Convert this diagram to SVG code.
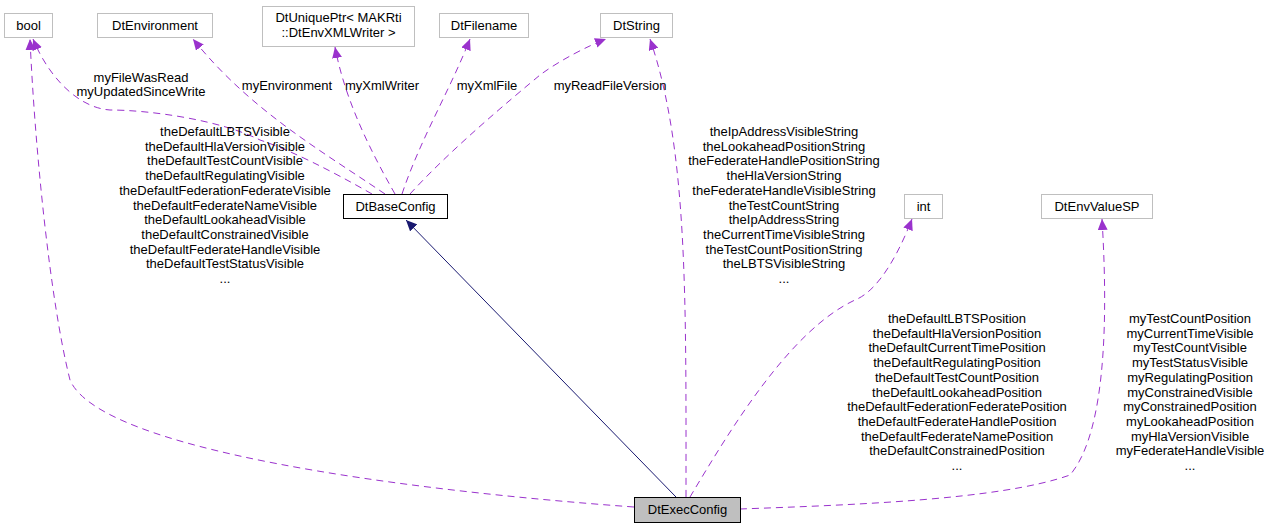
<svg xmlns="http://www.w3.org/2000/svg" width="1271" height="531" viewBox="0 0 1271 531">
<style>
text{font-family:"Liberation Sans",Arial,sans-serif;font-size:13px;fill:#000;text-anchor:middle}
.n{fill:#fff;stroke:#bfbfbf;stroke-width:1}
.d{fill:none;stroke:#9a32cd;stroke-width:1;stroke-dasharray:7,5}
</style>
<defs>
<marker id="p" markerWidth="12" markerHeight="10" refX="11" refY="5" orient="auto" markerUnits="userSpaceOnUse"><path d="M0,0L11,5L0,10z" fill="#9a32cd"/></marker>
<marker id="b" markerWidth="12" markerHeight="10" refX="11" refY="5" orient="auto" markerUnits="userSpaceOnUse"><path d="M0,0L11,5L0,10z" fill="#191970"/></marker>
</defs>
<rect width="1271" height="531" fill="#fff"/>
<g id="connectors">
<path class="d" marker-end="url(#p)" d="M372,194C330,170 290,150 260,140C220,120 150,110 110,110C80,108 50,80 33,39"/>
<path class="d" marker-end="url(#p)" d="M385,194C320,150 250,110 193,39"/>
<path class="d" marker-end="url(#p)" d="M395,194C370,150 345,100 335,47"/>
<path class="d" marker-end="url(#p)" d="M402,194C420,140 450,90 470,39"/>
<path class="d" marker-end="url(#p)" d="M410,194C450,150 510,100 540,75C560,60 590,45 606,39"/>
<path class="d" marker-end="url(#p)" d="M686,497C686,300 688,150 650,39"/>
<path class="d" marker-end="url(#p)" d="M634,507C400,490 100,450 70,380C50,300 35,150 30,39"/>
<path class="d" marker-end="url(#p)" d="M690,497C730,430 790,330 855,300C880,290 900,250 912,219"/>
<path class="d" marker-end="url(#p)" d="M740,509C850,505 1000,500 1070,475C1100,440 1110,350 1102,219"/>
<path fill="none" stroke="#191970" stroke-width="1" marker-end="url(#b)" d="M676,497L406,220"/>
</g>
<g id="bool"><rect class="n" x="4.5" y="13.5" width="48" height="24"/><text x="28.5" y="30">bool</text></g>
<g id="DtEnvironment"><rect class="n" x="97.5" y="13.5" width="115" height="24"/><text x="155" y="30">DtEnvironment</text></g>
<g id="DtUniquePtr"><rect class="n" x="262.5" y="6.5" width="152" height="40"/><text x="338.5" y="22">DtUniquePtr&lt; MAKRti</text><text x="338.5" y="37">::DtEnvXMLWriter &gt;</text></g>
<g id="DtFilename"><rect class="n" x="439.5" y="13.5" width="89" height="24"/><text x="484" y="30">DtFilename</text></g>
<g id="DtString"><rect class="n" x="600.5" y="13.5" width="72" height="24"/><text x="636.5" y="30">DtString</text></g>
<g id="DtBaseConfig"><rect x="343.5" y="194.5" width="104" height="24" fill="#fff" stroke="#000"/><text x="395.5" y="211">DtBaseConfig</text></g>
<g id="int"><rect class="n" x="904.5" y="194.5" width="38" height="24"/><text x="923.5" y="211">int</text></g>
<g id="DtEnvValueSP"><rect class="n" x="1041.5" y="194.5" width="111" height="24"/><text x="1097" y="211">DtEnvValueSP</text></g>
<g id="DtExecConfig"><rect x="634.5" y="497.5" width="106" height="25" fill="#bfbfbf" stroke="#000"/><text x="687.5" y="514">DtExecConfig</text></g>
<g id="labels">
<text x="141" y="82">myFileWasRead</text><text x="141" y="96">myUpdatedSinceWrite</text>
<text x="287" y="90">myEnvironment</text>
<text x="382" y="90">myXmlWriter</text>
<text x="487" y="90">myXmlFile</text>
<text x="610" y="90">myReadFileVersion</text>
<g transform="translate(225,136)">
<text y="0">theDefaultLBTSVisible</text><text y="14.7">theDefaultHlaVersionVisible</text><text y="29.4">theDefaultTestCountVisible</text><text y="44.1">theDefaultRegulatingVisible</text><text y="58.8">theDefaultFederationFederateVisible</text><text y="73.5">theDefaultFederateNameVisible</text><text y="88.2">theDefaultLookaheadVisible</text><text y="102.9">theDefaultConstrainedVisible</text><text y="117.6">theDefaultFederateHandleVisible</text><text y="132.3">theDefaultTestStatusVisible</text><text y="147">...</text>
</g>
<g transform="translate(784,136)">
<text y="0">theIpAddressVisibleString</text><text y="14.7">theLookaheadPositionString</text><text y="29.4">theFederateHandlePositionString</text><text y="44.1">theHlaVersionString</text><text y="58.8">theFederateHandleVisibleString</text><text y="73.5">theTestCountString</text><text y="88.2">theIpAddressString</text><text y="102.9">theCurrentTimeVisibleString</text><text y="117.6">theTestCountPositionString</text><text y="132.3">theLBTSVisibleString</text><text y="147">...</text>
</g>
<g transform="translate(957,323)">
<text y="0">theDefaultLBTSPosition</text><text y="14.7">theDefaultHlaVersionPosition</text><text y="29.4">theDefaultCurrentTimePosition</text><text y="44.1">theDefaultRegulatingPosition</text><text y="58.8">theDefaultTestCountPosition</text><text y="73.5">theDefaultLookaheadPosition</text><text y="88.2">theDefaultFederationFederatePosition</text><text y="102.9">theDefaultFederateHandlePosition</text><text y="117.6">theDefaultFederateNamePosition</text><text y="132.3">theDefaultConstrainedPosition</text><text y="147">...</text>
</g>
<g transform="translate(1190,323)">
<text y="0">myTestCountPosition</text><text y="14.7">myCurrentTimeVisible</text><text y="29.4">myTestCountVisible</text><text y="44.1">myTestStatusVisible</text><text y="58.8">myRegulatingPosition</text><text y="73.5">myConstrainedVisible</text><text y="88.2">myConstrainedPosition</text><text y="102.9">myLookaheadPosition</text><text y="117.6">myHlaVersionVisible</text><text y="132.3">myFederateHandleVisible</text><text y="147">...</text>
</g>
</g>
</svg>
